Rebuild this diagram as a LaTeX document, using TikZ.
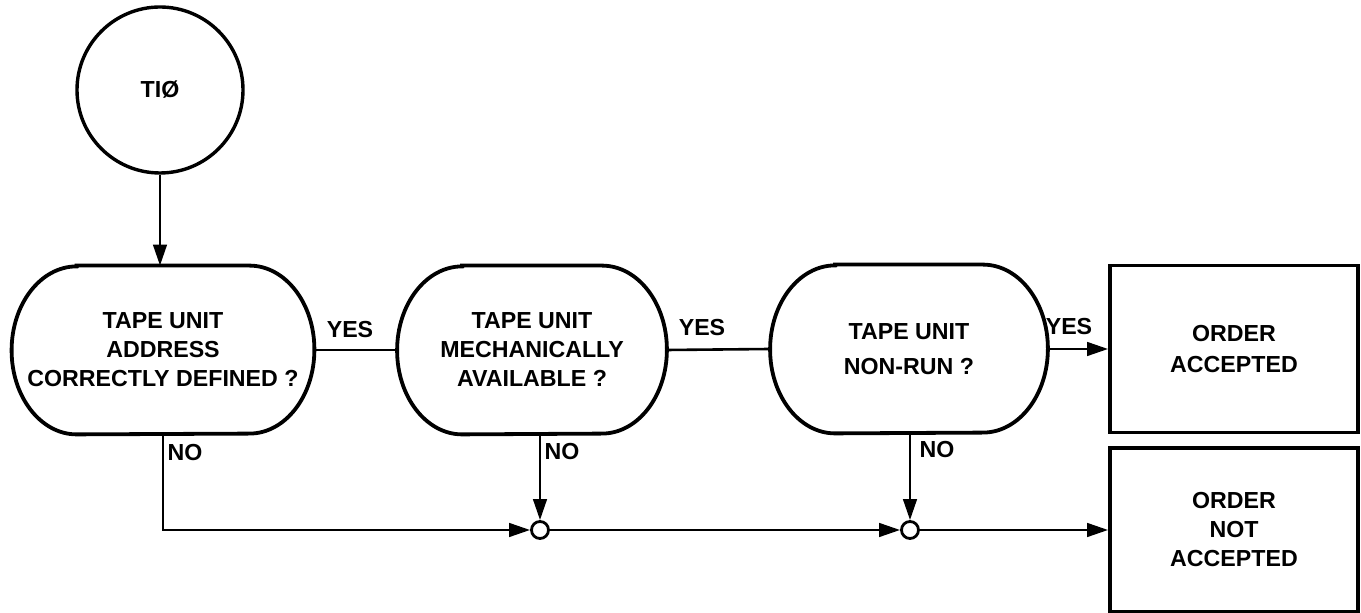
\documentclass[tikz,border=0pt]{standalone}
\usepackage{fontspec}
\setmainfont{Liberation Sans}
\usetikzlibrary{arrows.meta,positioning}
\newcommand{\lblfont}{\fontsize{11.6}{14.5}\selectfont\bfseries}
\tikzset{
  dec/.style={align=center, inner sep=0pt, font=\lblfont, minimum height=84pt},
  outl/.style={line width=1.9pt},
  resbox/.style={draw, line width=1.9pt, align=center, inner sep=0pt, font=\lblfont},
  startc/.style={draw, circle, line width=1.7pt, minimum size=83pt, inner sep=0pt, font=\lblfont},
  junc/.style={draw, circle, line width=1.4pt, fill=white, minimum size=8.5pt, inner sep=0pt},
  conn/.style={line width=1.3pt},
  arr/.style={conn, -{Triangle[length=10.5pt,width=6.8pt]}},
  lab/.style={font=\lblfont, inner sep=0pt},
}
\newcommand{\ovalpath}[1]{%
  \draw[outl] ([xshift=32.5pt]#1.north west) -- ([xshift=-32.5pt]#1.north east)
    arc[start angle=90,end angle=-90,x radius=32.5pt,y radius=42pt]
    -- ([xshift=32.5pt]#1.south west)
    arc[start angle=270,end angle=90,x radius=32.5pt,y radius=42pt] -- cycle;}
\begin{document}
\begin{tikzpicture}[x=0.5pt,y=-0.5pt]
\useasboundingbox (0,0) rectangle (1361,613);
% nodes
\node[startc] (t) at (160,90) {TIØ};
\node[dec, minimum width=151pt] (d1) at (163,350) {TAPE UNIT\\ADDRESS\\CORRECTLY DEFINED ?};
\node[dec, minimum width=134.5pt] (d2) at (532,350) {TAPE UNIT\\MECHANICALLY\\AVAILABLE ?};
\node[dec, minimum width=138.5pt] (d3) at (909,349) {TAPE UNIT\\[3pt]NON-RUN ?};
\ovalpath{d1}
\ovalpath{d2}
\ovalpath{d3}
\node[resbox, minimum width=124pt, minimum height=83.5pt] (b1) at (1234,349) {ORDER\\[1pt]ACCEPTED};
\node[resbox, minimum width=124pt, minimum height=82pt] (b2) at (1234,530) {ORDER\\NOT\\ACCEPTED};
\node[junc] (j1) at (540,530) {};
\node[junc] (j2) at (910,530) {};
% connectors
\draw[arr] (t.south) -- (t.south |- d1.north);
\draw[conn] (d1.east) -- (d2.west);
\draw[conn] (d2.east) -- (d3.west);
\draw[arr] (d3.east) -- (b1.west);
\draw[arr] (d1.south) |- (j1.west);
\draw[arr] (j1 |- d2.south) -- (j1.north);
\draw[arr] (j1.east) -- (j2.west);
\draw[arr] (j2 |- d3.south) -- (j2.north);
\draw[arr] (j2.east) -- (b2.west);
% labels
\node[lab] (y1) at (350,330) {YES};
\node[lab] (y2) at (702,328) {YES};
\node[lab] (y3) at (1069,327) {YES};
\node[lab] (n1) at (185,453) {NO};
\node[lab] (n2) at (562,452) {NO};
\node[lab] (n3) at (937,450) {NO};
\end{tikzpicture}
\end{document}
